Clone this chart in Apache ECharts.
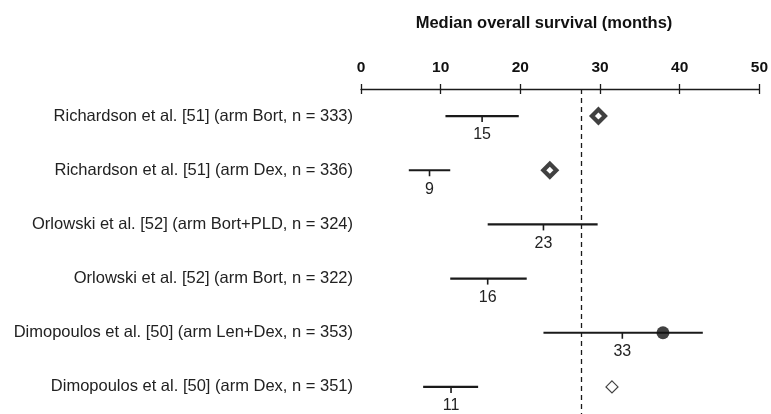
<!DOCTYPE html>
<html><head><meta charset="utf-8">
<script src="https://cdn.jsdelivr.net/npm/echarts@6/dist/echarts.min.js"></script>
<style>html,body{margin:0;padding:0;background:#fff}#c{width:771px;height:414px}</style>
</head><body><div id="c"></div>
<script>
const studies = [
  'Richardson et al. [51] (arm Bort, n = 333)',
  'Richardson et al. [51] (arm Dex, n = 336)',
  'Orlowski et al. [52] (arm Bort+PLD, n = 324)',
  'Orlowski et al. [52] (arm Bort, n = 322)',
  'Dimopoulos et al. [50] (arm Len+Dex, n = 353)',
  'Dimopoulos et al. [50] (arm Dex, n = 351)'
];
const lower  = [10.6, 6.0, 15.9, 11.2, 22.9, 7.8];
const median = [15.2, 8.6, 22.9, 15.9, 32.8, 11.3];
const upper  = [19.8, 11.2, 29.7, 20.8, 42.9, 14.7];
const medianLabels = ['15', '9', '23', '16', '33', '11'];
const thickDiamond = [29.8, 23.7, null, null, null, null];
const filledCircle = [null, null, null, null, 37.9, null];
const openDiamond  = [null, null, null, null, null, 31.5];
const referenceLine = 27.6;
const xTicks = [0, 10, 20, 30, 40, 50];

const font = 'Liberation Sans, Arial, Helvetica, sans-serif';
const chart = echarts.init(document.getElementById('c'));
const ciData = studies.map((s, i) => [lower[i], median[i], upper[i], i]);
const toPts = arr => arr.map((v, i) => v == null ? null : [v, i]).filter(d => d);

chart.setOption({
  animation: false,
  title: {
    text: 'Median overall survival (months)', left: 539, textAlign: 'center', top: 10,
    textStyle: { fontFamily: font, fontSize: 16.5, fontWeight: 'bold', color: '#111' }
  },
  grid: { left: 361, right: 11, top: 89, bottom: -4 },
  xAxis: [{
    type: 'value', position: 'top', min: xTicks[0], max: xTicks[xTicks.length - 1], interval: 10,
    axisLine: { show: true, lineStyle: { color: '#1a1a1a', width: 1.3 } },
    axisTick: { show: true, inside: false, length: 5, lineStyle: { color: '#1a1a1a', width: 1.3 } },
    axisLabel: { margin: 13, fontFamily: font, fontSize: 15.5, fontWeight: 'bold', color: '#111' },
    splitLine: { show: false }
  }, {
    type: 'value', position: 'top', min: xTicks[0], max: xTicks[xTicks.length - 1], interval: 10,
    axisLine: { show: false },
    axisTick: { show: true, inside: true, length: 5, lineStyle: { color: '#1a1a1a', width: 1.3 } },
    axisLabel: { show: false }, splitLine: { show: false }
  }],
  yAxis: {
    type: 'category', data: studies, inverse: true,
    axisLine: { show: false }, axisTick: { show: false }, splitLine: { show: false },
    axisLabel: { margin: 8, fontFamily: font, fontSize: 16.5, color: '#222' }
  },
  series: [{
    type: 'custom',
    xAxisIndex: 0, yAxisIndex: 0,
    data: ciData,
    encode: { x: [0, 1, 2], y: 3 },
    renderItem: function (params, api) {
      const row = api.value(3);
      const a = api.coord([api.value(0), row]);
      const m = api.coord([api.value(1), row]);
      const b = api.coord([api.value(2), row]);
      const st = { stroke: '#1a1a1a', lineWidth: 2.2 };
      return {
        type: 'group',
        children: [
          { type: 'line', shape: { x1: a[0], y1: a[1], x2: b[0], y2: b[1] }, style: st },
          { type: 'line', shape: { x1: m[0], y1: m[1], x2: m[0], y2: m[1] + 6 }, style: { stroke: '#1a1a1a', lineWidth: 1.6 } },
          { type: 'text', x: m[0], y: m[1] + 19, style: {
              text: medianLabels[params.dataIndex], align: 'center', verticalAlign: 'middle',
              font: '16px ' + font, fill: '#222' } }
        ]
      };
    },
    z: 2
  }, {
    type: 'scatter', data: toPts(thickDiamond), symbol: 'diamond', symbolSize: 13,
    itemStyle: { color: '#fff', borderColor: '#111', borderWidth: 4.2 }, z: 5
  }, {
    type: 'scatter', data: toPts(filledCircle), symbol: 'circle', symbolSize: 13,
    itemStyle: { color: '#111', borderColor: '#111', borderWidth: 0 }, z: 5
  }, {
    type: 'scatter', data: toPts(openDiamond), symbol: 'diamond', symbolSize: 12,
    itemStyle: { color: '#fff', borderColor: '#111', borderWidth: 1.2 }, z: 5,
    markLine: {
      silent: true, symbol: 'none', label: { show: false },
      lineStyle: { color: '#1a1a1a', type: [5, 4], width: 1.3 },
      data: [{ xAxis: referenceLine }]
    }
  }]
});
</script></body></html>
